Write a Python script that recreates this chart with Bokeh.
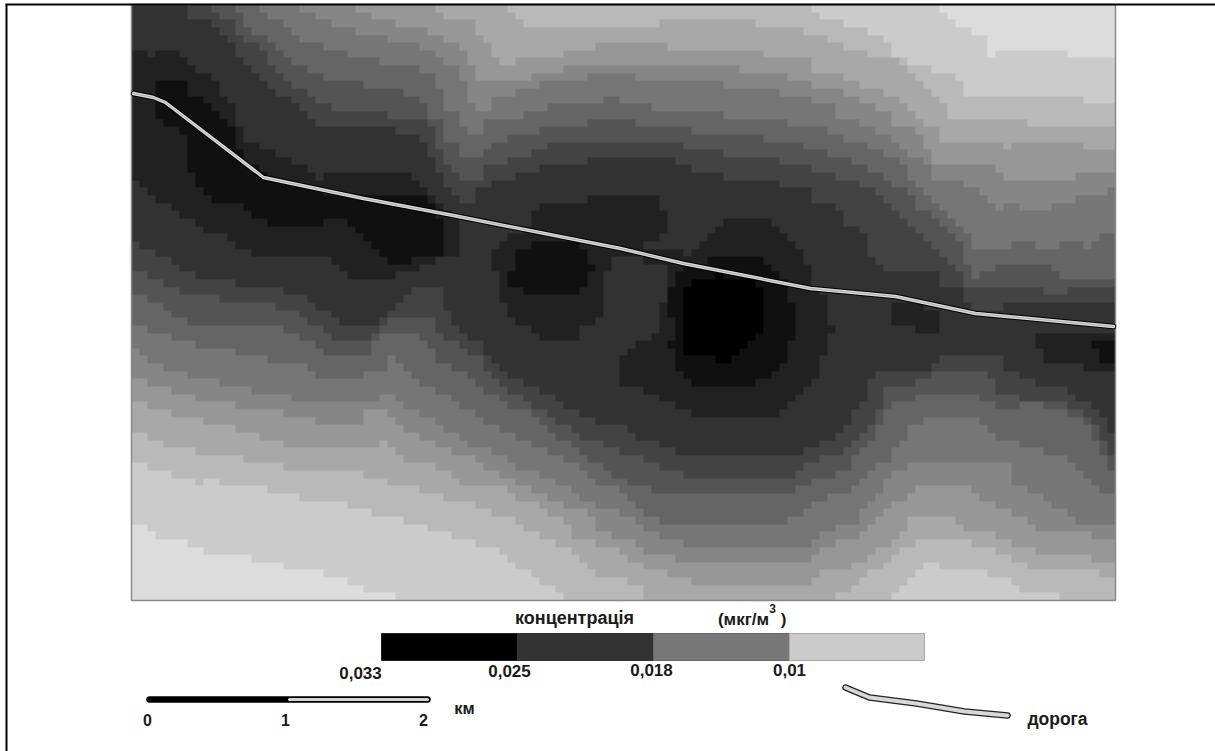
import numpy as np
from bokeh.plotting import figure
from bokeh.core.properties import value
from bokeh.embed import file_html
from bokeh.resources import INLINE

class_grays = [0x00, 0x10, 0x21, 0x32, 0x43, 0x54, 0x65, 0x76, 0x86, 0x97, 0xA8, 0xB9, 0xCB, 0xDC]

upper_12 = [(933,4),(958,25),(990,40),(990,55),(1013,48),(1062,48),(1070,55),(1115,55)]
lower_12 = [(131,520),(145,528),(162,537),(192,543),(208,551),(248,558),(282,566),(320,573),(330,582),(337,574),(352,582),(360,589),(392,590),(392,597),(408,600),(1115,600)]
upper_11 = [(807,4),(823,17),(847,25),(870,32),(887,40),(895,55),(910,63),(933,70),(958,78),(967,93),(1085,95),(1085,102),(1115,102)]
lower_11 = [(131,459),(145,467),(177,475),(200,483),(208,477),(223,483),(272,490),(303,498),(360,506),(377,513),(408,522),(432,530),(457,537),(480,544),(503,552),(520,567),(543,582),(567,597),(592,600),(887,600),(902,583),(910,575),(918,567),(935,559),(942,567),(973,567),(990,575),(1022,583),(1022,590),(1062,592),(1062,600),(1115,600)]
upper_10 = [(503,4),(512,10),(520,17),(520,25),(620,25),(663,25),(663,17),(750,17),(753,25),(798,25),(800,32),(830,40),(847,48),(872,55),(887,55),(910,70),(927,87),(942,102),(950,117),(1030,117),(1030,123),(1115,123)]
lower_10 = [(131,430),(153,437),(170,445),(202,452),(248,460),(288,467),(377,475),(392,483),(423,490),(447,498),(480,506),(495,513),(520,522),(528,530),(552,543),(575,552),(592,567),(600,575),(620,578),(632,582),(647,588),(647,597),(838,597),(855,583),(863,575),(880,567),(897,552),(910,543),(935,537),(973,543),(998,552),(1030,567),(1115,575)]
upper_9 = [(433,4),(440,10),(447,17),(472,17),(472,32),(487,32),(487,40),(495,40),(495,55),(503,63),(512,63),(512,55),(567,55),(567,48),(590,47),(598,47),(598,40),(670,40),(670,47),(767,48),(767,55),(807,57),(815,70),(847,78),(863,87),(887,93),(903,102),(918,117),(935,130),(942,140),(998,140),(1007,147),(1013,140),(1077,140),(1085,147),(1115,147)]
lower_9 = [(131,398),(153,407),(177,415),(208,422),(248,430),(257,437),(288,444),(377,444),(385,437),(392,452),(408,460),(440,468),(465,483),(512,490),(520,498),(543,506),(552,513),(567,522),(575,537),(600,543),(620,552),(640,565),(663,573),(695,582),(807,582),(822,573),(853,565),(870,557),(887,543),(895,537),(910,520),(918,513),(950,513),(967,528),(998,537),(1030,550),(1093,558),(1115,558)]
upper_8 = [(343,4),(373,17),(407,25),(440,33),(447,40),(456,40),(456,48),(464,48),(464,63),(472,63),(472,78),(528,78),(528,71),(567,71),(567,63),(742,63),(742,70),(790,70),(790,78),(815,78),(815,87),(830,87),(847,93),(862,102),(887,110),(895,123),(918,132),(927,147),(935,163),(958,163),(1007,170),(1007,177),(1077,177),(1077,170),(1115,170)]
lower_8 = [(131,376),(153,383),(177,391),(200,398),(240,406),(288,413),(320,422),(360,422),(360,413),(377,407),(392,415),(408,430),(423,438),(455,452),(472,459),(503,475),(520,483),(552,498),(567,506),(592,515),(600,530),(620,537),(640,543),(647,552),(678,558),(807,558),(830,543),(853,542),(878,520),(902,498),(918,483),(958,483),(982,498),(1013,513),(1038,528),(1077,530),(1115,543)]
upper_7 = [(297,4),(313,15),(360,33),(400,40),(440,55),(447,63),(456,63),(456,78),(464,78),(464,102),(472,102),(472,110),(488,110),(488,102),(503,95),(528,87),(560,78),(590,78),(592,72),(630,72),(632,78),(727,78),(727,87),(783,87),(783,93),(800,93),(813,102),(838,108),(838,117),(870,125),(878,132),(895,140),(910,155),(927,163),(935,178),(973,185),(990,200),(998,208),(1007,202),(1022,202),(1022,208),(1053,208),(1053,200),(1078,200),(1078,193),(1108,192),(1108,185),(1115,185)]
lower_7 = [(131,347),(137,352),(153,362),(162,368),(185,375),(223,383),(257,391),(297,398),(377,398),(377,391),(392,391),(392,398),(408,407),(423,415),(440,423),(457,437),(472,444),(497,452),(520,467),(543,475),(560,483),(583,498),(600,505),(620,513),(647,528),(663,536),(687,543),(807,543),(830,530),(853,522),(870,505),(893,473),(910,467),(918,460),(982,460),(1013,467),(1013,483),(1030,490),(1053,505),(1077,520),(1115,528)]
upper_6 = [(257,4),(280,23),(305,40),(353,57),(393,63),(432,72),(440,93),(447,110),(456,110),(456,123),(464,123),(464,131),(480,131),(480,123),(520,117),(543,108),(575,102),(600,102),(600,95),(623,95),(623,102),(655,102),(655,108),(727,108),(727,117),(790,117),(790,124),(815,124),(830,132),(853,140),(870,147),(887,155),(902,163),(910,178),(927,193),(950,217),(967,230),(973,247),(1015,247),(1015,238),(1038,238),(1038,247),(1062,247),(1062,238),(1085,238),(1085,247),(1093,247),(1093,238),(1110,232),(1115,232)]
lower_6 = [(131,323),(153,330),(177,338),(200,345),(240,352),(272,360),(312,368),(320,376),(360,376),(368,368),(385,367),(385,353),(392,353),(392,362),(408,368),(417,383),(440,392),(465,407),(488,422),(503,430),(520,437),(552,452),(583,467),(600,483),(620,490),(640,513),(663,520),(790,520),(807,507),(823,498),(853,490),(870,473),(887,460),(897,447),(910,428),(927,415),(973,415),(990,428),(1007,443),(1013,437),(1022,443),(1047,452),(1070,460),(1093,483),(1115,498)]
upper_5 = [(233,4),(240,17),(265,40),(297,63),(328,78),(383,87),(418,95),(425,110),(440,123),(447,140),(456,140),(456,155),(487,154),(487,147),(503,140),(528,132),(560,124),(590,124),(592,117),(630,117),(632,123),(693,124),(693,132),(767,132),(767,140),(798,140),(807,147),(830,155),(855,163),(870,170),(895,185),(910,193),(920,208),(942,223),(958,240),(967,260),(973,277),(990,270),(1007,262),(1047,262),(1053,275),(1115,277)]
lower_5 = [(131,292),(153,300),(162,308),(177,315),(192,323),(240,323),(288,330),(305,338),(320,352),(368,352),(377,338),(393,330),(408,330),(417,338),(432,347),(440,362),(457,368),(473,383),(488,392),(512,407),(535,415),(560,437),(583,452),(608,473),(620,475),(630,482),(655,490),(790,490),(807,483),(830,475),(847,467),(862,450),(878,430),(887,407),(910,400),(927,392),(973,392),(982,398),(998,407),(1022,407),(1022,400),(1053,407),(1085,422),(1093,433),(1115,483)]
upper_4 = [(208,4),(225,17),(240,32),(265,55),(288,80),(320,103),(337,108),(385,108),(392,117),(417,117),(425,123),(433,132),(440,155),(447,163),(456,177),(480,177),(480,170),(503,163),(528,155),(543,147),(560,140),(638,138),(687,140),(687,147),(733,155),(760,155),(790,163),(815,170),(838,177),(862,185),(887,200),(902,217),(918,232),(942,255),(958,270),(967,283),(1047,283),(1047,292),(1070,292),(1070,285),(1115,285)]
lower_4 = [(131,268),(153,277),(162,283),(185,292),(233,300),(288,307),(303,315),(313,323),(328,330),(330,337),(368,337),(377,330),(385,323),(400,315),(432,315),(440,332),(448,338),(473,353),(488,368),(503,383),(520,398),(535,407),(560,422),(583,437),(608,444),(620,450),(640,457),(657,467),(687,475),(790,475),(815,460),(847,450),(862,437),(878,413),(887,383),(910,383),(927,377),(942,368),(973,368),(990,377),(998,390),(1022,398),(1053,398),(1087,415),(1100,430),(1115,467)]
upper_3 = [(183,4),(185,15),(208,23),(217,32),(248,63),(257,72),(280,95),(297,103),(313,123),(393,124),(393,132),(417,132),(425,140),(433,163),(440,177),(447,185),(456,193),(463,202),(472,202),(472,193),(487,185),(512,177),(528,170),(560,163),(590,163),(592,155),(678,155),(678,163),(693,163),(693,170),(727,170),(727,177),(783,177),(783,185),(807,185),(815,200),(840,208),(847,223),(862,232),(870,253),(878,262),(887,270),(933,270),(942,285),(958,285),(967,300),(973,310),(1007,310),(1007,300),(1115,300)]
lower_3 = [(131,238),(145,247),(153,253),(177,263),(193,277),(233,283),(297,292),(312,300),(320,307),(337,322),(377,322),(393,307),(400,300),(410,292),(440,283),(440,300),(448,315),(448,323),(473,338),(488,353),(503,368),(520,383),(537,390),(552,398),(567,407),(577,413),(600,422),(620,422),(640,437),(657,443),(695,458),(790,458),(807,450),(823,443),(847,428),(853,413),(870,398),(870,377),(878,368),(927,368),(950,353),(998,353),(1007,368),(1038,383),(1053,383),(1078,398),(1100,413),(1115,437)]

blobs_2 = [
    [(131,47),(153,55),(162,48),(177,48),(185,63),(208,73),(217,87),(233,103),(240,132),(257,147),(288,160),(320,177),(343,170),(408,170),(408,178),(433,193),(433,203),(447,202),(447,210),(457,222),(457,253),(392,277),(368,283),(353,277),(320,253),(248,253),(233,240),(208,230),(185,217),(162,200),(153,197),(137,180),(131,170)],
    [(487,257),(497,247),(510,237),(528,223),(537,208),(560,202),(590,200),(592,193),(662,193),(662,208),(670,208),(670,223),(663,230),(655,238),(640,238),(640,247),(687,253),(695,247),(703,238),(718,223),(735,216),(767,216),(783,230),(798,247),(807,263),(815,287),(830,300),(830,323),(838,323),(830,332),(823,353),(823,367),(815,377),(805,392),(790,405),(775,413),(695,413),(680,407),(663,398),(647,390),(620,383),(617,378),(617,360),(632,345),(647,338),(655,330),(663,300),(665,268),(620,252),(613,260),(608,267),(600,310),(599,315),(592,322),(583,323),(575,337),(543,337),(537,330),(512,322),(503,300),(503,283)],
    [(887,305),(893,322),(918,322),(918,330),(942,330),(942,315),(930,308),(900,300)],
    [(1038,330),(1030,338),(1038,345),(1047,360),(1087,360),(1087,368),(1102,368),(1115,375),(1115,330)],
]
blobs_1 = [
    [(153,78),(183,78),(192,95),(200,95),(218,115),(233,132),(240,155),(257,170),(265,177),(330,192),(385,193),(433,200),(440,223),(440,253),(415,253),(415,262),(385,262),(377,247),(360,237),(352,223),(344,215),(320,223),(273,223),(248,215),(233,200),(217,200),(200,192),(185,163),(185,140),(177,130),(162,122),(153,113)],
    [(512,253),(520,247),(543,240),(583,245),(590,253),(592,270),(583,283),(575,292),(528,292),(520,283),(510,283)],
    [(687,267),(720,255),(758,255),(767,267),(790,287),(792,310),(798,323),(792,338),(783,360),(767,375),(758,383),(688,383),(672,368),(672,347),(663,338),(672,337),(670,300),(672,270)],
    [(1093,337),(1115,337),(1115,362),(1100,362),(1095,350),(1087,348)],
]
blobs_0 = [
    [(680,300),(695,277),(718,275),(742,278),(760,287),(760,310),(767,320),(767,330),(758,330),(752,338),(742,345),(727,360),(712,360),(712,353),(687,352),(680,320)],
]

road_x = [133,153,165,263,363,453,620,683,810,895,975,1113]
road_y = [93,97,102,177,198,215,248,263,288,296,313,326]
road_key_x = [845,852,869,916,964,1007]
road_key_y = [687,690,697,703,711,715]

legend_values = ["0,033", "0,025", "0,018", "0,01"]
legend_colors = ["#000000", "#333333", "#777777", "#cbcbcb"]
legend_edges = [381, 517, 653, 789, 924]
legend_label_x = [360, 509, 651, 789]
legend_label_y = [672, 670, 669, 669]
scale_labels = ["0", "1", "2"]
scale_edges = [149, 289, 427]
scale_label_x = [147, 285, 423]

MAP = (131, 1115, 4, 600)
n_cols, n_rows = 123, 78
cw = (MAP[1]-MAP[0])/n_cols
ch = (MAP[3]-MAP[2])/n_rows
xc = MAP[0] + (np.arange(n_cols)+0.5)*cw
yc = MAP[2] + (np.arange(n_rows)+0.5)*ch
XX, YY = np.meshgrid(xc, yc)

def inside(poly):
    pts = np.array(poly, float)
    x0, y0 = pts[:,0], pts[:,1]
    x1, y1 = np.roll(x0,-1), np.roll(y0,-1)
    res = np.zeros(XX.shape, bool)
    for a,b,c,d in zip(x0,y0,x1,y1):
        if b == d:
            continue
        cond = ((b > YY) != (d > YY)) & (XX < (c-a)*(YY-b)/(d-b)+a)
        res ^= cond
    return res

levels = np.full(XX.shape, 13)
bands = {12:(upper_12,lower_12),11:(upper_11,lower_11),10:(upper_10,lower_10),9:(upper_9,lower_9),
         8:(upper_8,lower_8),7:(upper_7,lower_7),6:(upper_6,lower_6),5:(upper_5,lower_5),
         4:(upper_4,lower_4),3:(upper_3,lower_3)}
for k,(u,l) in bands.items():
    levels[inside([(MAP[0],MAP[2])]+u+l[::-1])] = k
for k,bl in ((2,blobs_2),(1,blobs_1),(0,blobs_0)):
    for b in bl:
        levels[inside(b)] = k

left,right,top,bottom,color = [],[],[],[],[]
for r in range(n_rows):
    c = 0
    while c < n_cols:
        e = c
        while e+1 < n_cols and levels[r,e+1] == levels[r,c]:
            e += 1
        left.append(round(MAP[0]+c*cw)); right.append(min(MAP[1], round(MAP[0]+(e+1)*cw)+1))
        top.append(round(MAP[2]+r*ch)); bottom.append(min(MAP[3], round(MAP[2]+(r+1)*ch)+1))
        g = class_grays[levels[r,c]]
        color.append(f"#{g:02x}{g:02x}{g:02x}")
        c = e+1

p = figure(width=1215, height=751, x_range=(0,1215), y_range=(751,0),
           toolbar_location=None, output_backend="svg", min_border=0,
           outline_line_color=None, margin=(0,0,0,0))
p.xaxis.visible = False
p.yaxis.visible = False
p.grid.visible = False

p.quad(left=left, right=right, top=top, bottom=bottom, fill_color=color, line_color=None)
p.quad(left=[MAP[0]], right=[MAP[1]], top=[MAP[2]], bottom=[MAP[3]], fill_color=None, line_color="#8a8a8a", line_width=1.5)

p.line([6,6],[751,4], line_color="black", line_width=2)
p.line([5,1215],[4,4], line_color="black", line_width=2)

p.line(road_x, road_y, line_color="black", line_width=5.5, line_join="round", line_cap="round")
p.line(road_x, road_y, line_color="#dcdcdc", line_width=3.4, line_join="round", line_cap="round")
p.line(road_x, road_y, line_color="#a0a0a0", line_width=0.8, line_join="round", line_cap="round")

font = value("Liberation Sans")
def label(x,y,t,size):
    p.text(x=x,y=y,text=t,text_font=font,text_font_style="bold",text_font_size=size,
           text_align="center",text_baseline="middle",text_color="#1a1a1a")

p.quad(left=legend_edges[:-1], right=legend_edges[1:], top=[633]*4, bottom=[660]*4,
       fill_color=legend_colors, line_color=["#222222","#333333","#666666","#a8a8a8"], line_width=1)
label(legend_label_x, legend_label_y, legend_values, "17px")
label([574],[617],["концентрація"],"18px")
label([743],[619],["(мкг/м"],"17px")
label([772],[608],["3"],"12px")
label([783],[619],[")"],"17px")

p.line([scale_edges[0],scale_edges[2]],[699,699], line_color="black", line_width=6.5, line_cap="round")
p.line(scale_edges[1:],[699,699], line_color="#d4d4d4", line_width=3, line_cap="round")
label(scale_label_x,[719,719,719],scale_labels,"16px")
label([464],[707],["км"],"16.5px")

p.line(road_key_x, road_key_y, line_color="#222222", line_width=6.5, line_cap="round", line_join="round")
p.line(road_key_x, road_key_y, line_color="#d8d8d8", line_width=4, line_cap="round", line_join="round")
label([1057],[718],["дорога"],"17.5px")

open("out.html","w").write(file_html(p, INLINE))
